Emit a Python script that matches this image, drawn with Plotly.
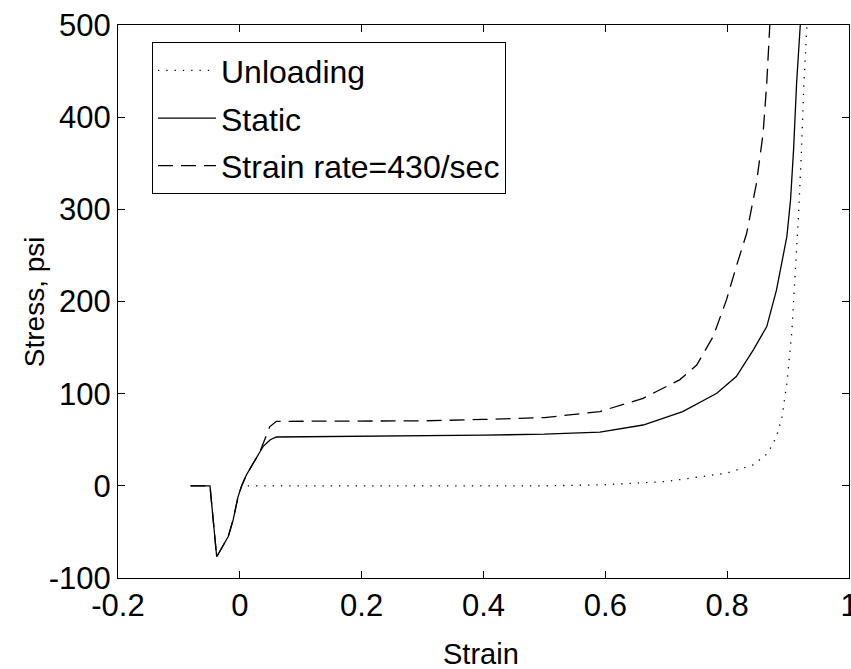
import plotly.graph_objects as go

# Stress-strain curves (strain, stress in psi)
unload_strain = [0.013, 0.1, 0.2, 0.3, 0.4, 0.5, 0.591, 0.70, 0.799, 0.843, 0.867, 0.881,
                 0.890, 0.898, 0.906, 0.911, 0.917, 0.922, 0.926, 0.931]
unload_stress = [0, 0, 0, 0, 0, 0, 1, 4.7, 13.8, 22.8, 35.5, 53.5,
                 75, 111, 165.7, 220, 292, 364.5, 437, 500]

static_strain = [-0.081, -0.049, -0.038, -0.019, -0.011, -0.003, 0.003, 0.011, 0.038, 0.050,
                 0.060, 0.2, 0.3, 0.4, 0.5, 0.591, 0.662, 0.727, 0.783, 0.815, 0.843,
                 0.865, 0.881, 0.898, 0.904, 0.909, 0.914, 0.920]
static_stress = [0, 0, -77, -55, -37, -12, 0, 12, 42.6, 50, 53, 53.5, 54, 55, 56, 58.3,
                 66, 80.6, 100.5, 118.6, 147.6, 172.8, 212.6, 270.5, 310, 364.5, 437, 500]

rate_strain = [-0.081, -0.049, -0.038, -0.019, -0.011, -0.003, 0.003, 0.011, 0.033, 0.049,
               0.060, 0.2, 0.3, 0.4, 0.5, 0.591, 0.662, 0.722, 0.75, 0.777, 0.799, 0.815,
               0.832, 0.848, 0.859, 0.865, 0.870]
rate_stress = [0, 0, -77, -55, -37, -12, 0, 12, 37, 64, 70, 70, 70.5, 72, 74, 80.6,
               95, 115, 131, 162, 202, 238, 274, 328, 382.6, 437, 500]

x_ticks = [-0.2, 0, 0.2, 0.4, 0.6, 0.8, 1]
x_tick_text = ["-0.2", "0", "0.2", "0.4", "0.6", "0.8", "1"]
y_ticks = [-100, 0, 100, 200, 300, 400, 500]
y_tick_text = ["-100", "0", "100", "200", "300", "400", "500"]

FONT = "Liberation Sans, Arial, sans-serif"

fig = go.Figure()
fig.add_trace(go.Scatter(x=unload_strain, y=unload_stress, mode="lines", name="Unloading",
                         legendgroup="a",
                         line=dict(color="black", width=1.3, dash="1.3px,7px")))
fig.add_trace(go.Scatter(x=static_strain, y=static_stress, mode="lines", name="Static",
                         legendgroup="b",
                         line=dict(color="black", width=1.3)))
fig.add_trace(go.Scatter(x=rate_strain, y=rate_stress, mode="lines",
                         name="Strain rate=430/sec", legendgroup="c",
                         line=dict(color="black", width=1.3, dash="15px,8px")))

axis_common = dict(showgrid=False, zeroline=False, showline=True, linecolor="black",
                   linewidth=1, mirror="ticks", ticks="inside", ticklen=7,
                   tickcolor="black", tickwidth=1, automargin=False,
                   ticklabeloverflow="allow",
                   tickfont=dict(family=FONT, size=31, color="black"))

fig.update_xaxes(range=[-0.2, 1], tickvals=x_ticks, ticktext=x_tick_text, **axis_common)
fig.update_yaxes(range=[-100, 500], tickvals=y_ticks, ticktext=y_tick_text, **axis_common)

fig.add_annotation(text="Strain", xref="paper", yref="paper", x=0.497, y=-0.137,
                   showarrow=False, xanchor="center", yanchor="middle",
                   font=dict(family=FONT, size=29, color="black"))
fig.add_annotation(text="Stress, psi", xref="paper", yref="paper", x=-0.114, y=0.5,
                   textangle=-90, showarrow=False, xanchor="center", yanchor="middle",
                   font=dict(family=FONT, size=28, color="black"))

fig.update_layout(
    width=851, height=669,
    margin=dict(l=118, r=2, t=25, b=91),
    paper_bgcolor="white", plot_bgcolor="white",
    showlegend=True,
    legend=dict(x=0.0465, y=0.969, xanchor="left", yanchor="top",
                bgcolor="white", bordercolor="black", borderwidth=1,
                font=dict(family=FONT, size=32, color="black"),
                tracegroupgap=3, itemwidth=58),
)

fig.write_html("out.html")
